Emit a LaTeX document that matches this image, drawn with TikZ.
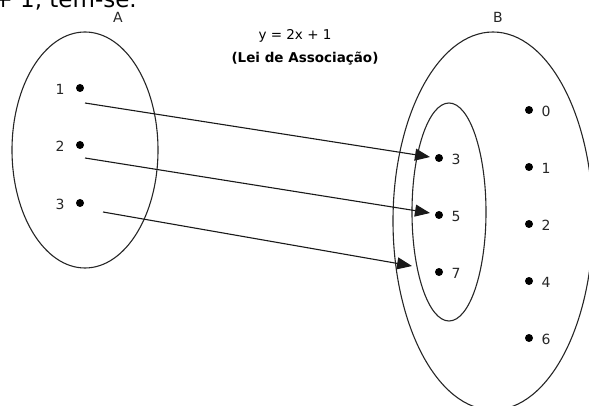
\documentclass[tikz,border=0pt]{standalone}
\usepackage{fontspec}
\setmainfont{DejaVu Sans}
\usetikzlibrary{arrows.meta}
\begin{document}
\begin{tikzpicture}[x=1pt,y=-1pt,
  setline/.style={line width=1.1pt, black!85},
  pt/.style={circle, fill=black, inner sep=0pt, minimum size=8pt},
  lbl/.style={font=\fontsize{14}{16}\selectfont, text=black!85, inner sep=0pt},
  maparrow/.style={line width=1.1pt, black!90, -{Triangle[length=15pt,width=12pt]}}
]
\useasboundingbox (0,0) rectangle (589,406);
% cropped text at the top
\node[anchor=base east, font=\fontsize{23}{26}\selectfont, inner sep=0pt] (top) at (137,7.5) {+ 1, tem-se.};
% sets
\draw[setline] (85,150) ellipse [x radius=73, y radius=118];
\draw[setline] (493,221) ellipse [x radius=100, y radius=189];
\draw[setline] (449,212) ellipse [x radius=37, y radius=109];
\node[lbl] (labA) at (118,17) {A};
\node[lbl] (labB) at (498,17) {B};
% formula
\node[anchor=base, font=\fontsize{13.5}{16}\selectfont, inner sep=0pt] (law) at (295,40) {y = 2x + 1};
\node[anchor=base, font=\fontsize{13.5}{16}\selectfont\bfseries, inner sep=0pt] (lawname) at (305,63) {(Lei de Associação)};
% set A elements
\node[pt] (a1) at (80,88) {};
\node[pt] (a2) at (80,145) {};
\node[pt] (a3) at (80,203) {};
\node[lbl] at (60,89) {1};
\node[lbl] at (60,146) {2};
\node[lbl] at (60,204) {3};
% set B inner elements
\node[pt] (b3) at (439,158) {};
\node[pt] (b5) at (439,215) {};
\node[pt] (b7) at (439,272) {};
\node[lbl] at (456,159) {3};
\node[lbl] at (456,216) {5};
\node[lbl] at (456,273) {7};
% set B outer elements
\node[pt] (c0) at (529,110) {};
\node[pt] (c1) at (529,167) {};
\node[pt] (c2) at (529,224) {};
\node[pt] (c4) at (529,281) {};
\node[pt] (c6) at (529,338) {};
\node[lbl] at (546,111) {0};
\node[lbl] at (546,168) {1};
\node[lbl] at (546,225) {2};
\node[lbl] at (546,282) {4};
\node[lbl] at (546,339) {6};
% arrows
\coordinate (s1) at (85,103);
\coordinate (s2) at (85,158);
\coordinate (s3) at (103,212);
\coordinate (e1) at (430,157);
\coordinate (e2) at (430,213);
\coordinate (e3) at (412,266);
\draw[maparrow] (s1) -- (e1);
\draw[maparrow] (s2) -- (e2);
\draw[maparrow] (s3) -- (e3);
\end{tikzpicture}
\end{document}
